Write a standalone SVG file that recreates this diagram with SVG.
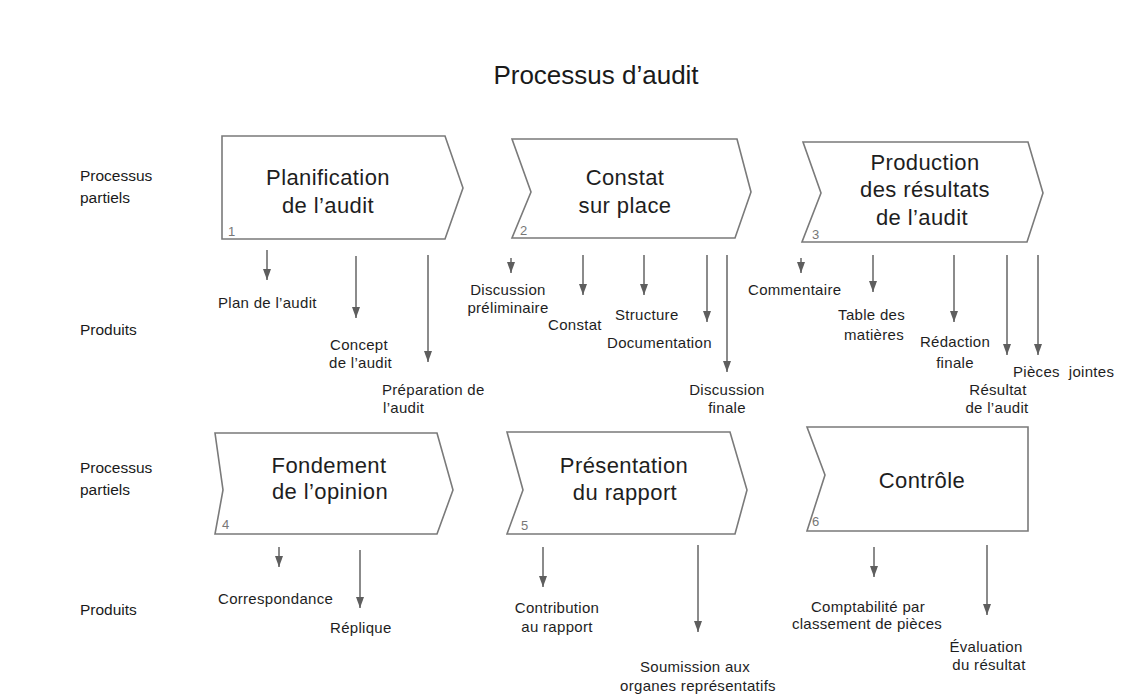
<svg xmlns="http://www.w3.org/2000/svg" width="1128" height="696" viewBox="0 0 1128 696">
  <style>
    .shape { fill: #ffffff; stroke: #7a7a7a; stroke-width: 1.6; stroke-linejoin: miter; }
    .title { font-family: "Liberation Sans", Arial, sans-serif; font-size: 26px; fill: #1a1a1a; text-anchor: middle; }
    .side { font-family: "Liberation Sans", Arial, sans-serif; font-size: 15.5px; fill: #1a1a1a; }
    .step { font-family: "Liberation Sans", Arial, sans-serif; font-size: 22px; fill: #1e1e1e; text-anchor: middle; letter-spacing: 0.4px; }
    .num { font-family: "Liberation Sans", Arial, sans-serif; font-size: 13px; fill: #777777; }
    .prod { font-family: "Liberation Sans", Arial, sans-serif; font-size: 15px; fill: #1e1e1e; letter-spacing: 0.3px; }
    .mid { text-anchor: middle; }
    .end { text-anchor: end; }
    .arrow { stroke: #6e6e6e; stroke-width: 1.6; fill: none; marker-end: url(#down); }
  </style>
  <defs>
    <marker id="down" markerUnits="userSpaceOnUse" markerWidth="8" markerHeight="11" refX="4" refY="11" orient="0" viewBox="0 0 8 11">
      <path d="M0,0 L8,0 L4,11 Z" fill="#5e5e5e"/>
    </marker>
  </defs>

  <text class="title" x="596" y="84">Processus d’audit</text>

  <!-- row headings -->
  <g id="row-labels">
    <text class="side" x="80" y="181">Processus</text>
    <text class="side" x="80" y="203">partiels</text>
    <text class="side" x="80" y="335">Produits</text>
    <text class="side" x="80" y="473">Processus</text>
    <text class="side" x="80" y="495">partiels</text>
    <text class="side" x="80" y="615">Produits</text>
  </g>

  <!-- process steps -->
  <g id="step1">
    <polygon class="shape" points="222,136 445,136 463,188 445,239 222,239"/>
    <text class="step" x="328" y="185">Planification</text>
    <text class="step" x="328" y="213">de l’audit</text>
    <text class="num" x="228" y="236">1</text>
  </g>
  <g id="step2">
    <polygon class="shape" points="512,139 737,139 751,192 735,238 512,238 531,192"/>
    <text class="step" x="625" y="185">Constat</text>
    <text class="step" x="625" y="213">sur place</text>
    <text class="num" x="520" y="235">2</text>
  </g>
  <g id="step3">
    <polygon class="shape" points="803,142 1028,142 1043,193 1027,242 802,242 821,193"/>
    <text class="step" x="925" y="170">Production</text>
    <text class="step" x="925" y="197">des résultats</text>
    <text class="step" x="922" y="225">de l’audit</text>
    <text class="num" x="812" y="239">3</text>
  </g>
  <g id="step4">
    <polygon class="shape" points="215,433 437,433 453,490 437,534 215,534 223,490"/>
    <text class="step" x="329" y="473">Fondement</text>
    <text class="step" x="330" y="499">de l’opinion</text>
    <text class="num" x="222" y="529">4</text>
  </g>
  <g id="step5">
    <polygon class="shape" points="507,432 730,432 747,490 735,534 507,534 523,490"/>
    <text class="step" x="624" y="473">Présentation</text>
    <text class="step" x="625" y="500">du rapport</text>
    <text class="num" x="521" y="530">5</text>
  </g>
  <g id="step6">
    <polygon class="shape" points="807,427 1028,427 1028,531 807,531 825,475"/>
    <text class="step" x="922" y="488">Contrôle</text>
    <text class="num" x="812" y="526">6</text>
  </g>

  <!-- output arrows -->
  <g id="connectors">
    <line class="arrow" x1="267" y1="250" x2="267" y2="280"/>
    <line class="arrow" x1="356" y1="256" x2="356" y2="318"/>
    <line class="arrow" x1="428" y1="255" x2="428" y2="362"/>

    <line class="arrow" x1="511" y1="258" x2="511" y2="273"/>
    <line class="arrow" x1="583" y1="255" x2="583" y2="295"/>
    <line class="arrow" x1="644" y1="255" x2="644" y2="295"/>
    <line class="arrow" x1="707" y1="255" x2="707" y2="322"/>
    <line class="arrow" x1="727" y1="255" x2="727" y2="372"/>

    <line class="arrow" x1="801" y1="258" x2="801" y2="273"/>
    <line class="arrow" x1="873" y1="255" x2="873" y2="292"/>
    <line class="arrow" x1="954" y1="255" x2="954" y2="322"/>
    <line class="arrow" x1="1007" y1="255" x2="1007" y2="355"/>
    <line class="arrow" x1="1038" y1="255" x2="1038" y2="355"/>

    <line class="arrow" x1="279" y1="547" x2="279" y2="567"/>
    <line class="arrow" x1="360" y1="550" x2="360" y2="608"/>

    <line class="arrow" x1="543" y1="547" x2="543" y2="587"/>
    <line class="arrow" x1="698" y1="545" x2="698" y2="632"/>

    <line class="arrow" x1="874" y1="547" x2="874" y2="577"/>
    <line class="arrow" x1="987" y1="545" x2="987" y2="615"/>
  </g>

  <!-- products -->
  <g id="products">
    <text class="prod" x="218" y="308">Plan de l’audit</text>
    <text class="prod" x="330" y="350">Concept</text>
    <text class="prod" x="329" y="368">de l’audit</text>
    <text class="prod" x="382" y="395">Préparation de</text>
    <text class="prod" x="383" y="413">l’audit</text>

    <text class="prod mid" x="508" y="295">Discussion</text>
    <text class="prod mid" x="508" y="313">préliminaire</text>
    <text class="prod" x="548" y="330">Constat</text>
    <text class="prod" x="615" y="320">Structure</text>
    <text class="prod" x="607" y="348">Documentation</text>
    <text class="prod mid" x="727" y="395">Discussion</text>
    <text class="prod mid" x="727" y="413">finale</text>

    <text class="prod" x="748" y="295">Commentaire</text>
    <text class="prod end" x="905" y="320">Table des</text>
    <text class="prod end" x="904" y="340">matières</text>
    <text class="prod mid" x="955" y="347">Rédaction</text>
    <text class="prod mid" x="955" y="368">finale</text>
    <text class="prod" x="1013" y="377" style="white-space:pre">Pièces  jointes</text>
    <text class="prod mid" x="998" y="395">Résultat</text>
    <text class="prod mid" x="997" y="413">de l’audit</text>

    <text class="prod" x="218" y="604">Correspondance</text>
    <text class="prod" x="330" y="633">Réplique</text>

    <text class="prod mid" x="557" y="613">Contribution</text>
    <text class="prod mid" x="557" y="632">au rapport</text>
    <text class="prod mid" x="695" y="672">Soumission aux</text>
    <text class="prod mid" x="698" y="691">organes représentatifs</text>

    <text class="prod mid" x="868" y="612">Comptabilité par</text>
    <text class="prod mid" x="867" y="629">classement de pièces</text>
    <text class="prod mid" x="986" y="652">Évaluation</text>
    <text class="prod mid" x="989" y="670">du résultat</text>
  </g>
</svg>
